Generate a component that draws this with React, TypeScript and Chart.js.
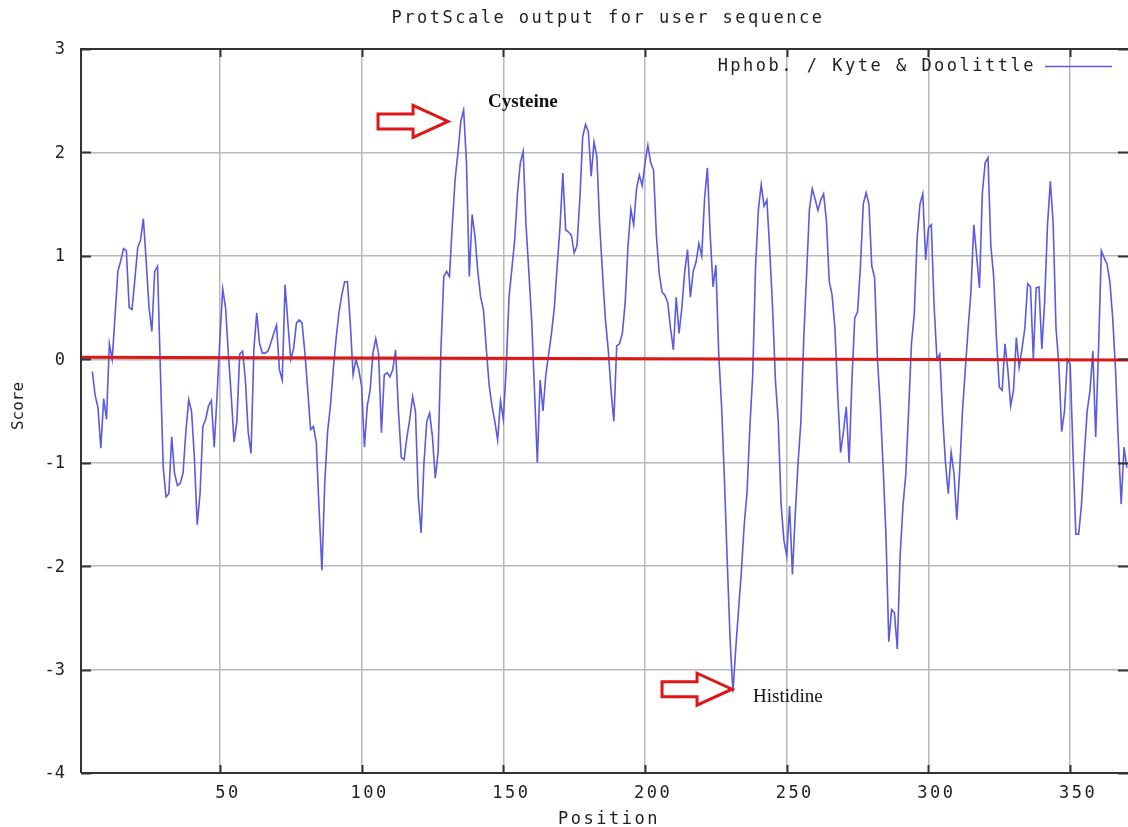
import React, { useEffect, useRef } from "react";
import { Chart, registerables } from "chart.js";

Chart.register(...registerables);

// ---- Data (Kyte & Doolittle hydropathy, window centred positions) ----
const firstPosition = 5;

const scores005to100 = [
  -0.12, -0.35, -0.47, -0.86, -0.38, -0.58, 0.15, 0.0, 0.41, 0.85,
  0.95, 1.07, 1.05, 0.5, 0.48, 0.77, 1.08, 1.15, 1.36, 0.95,
  0.5, 0.27, 0.85, 0.9, -0.1, -1.04, -1.33, -1.3, -0.75, -1.1,
  -1.22, -1.2, -1.1, -0.7, -0.39, -0.5, -0.95, -1.6, -1.3, -0.65,
  -0.58, -0.45, -0.4, -0.85, -0.35, 0.2, 0.68, 0.5, 0.05, -0.35,
  -0.8, -0.6, 0.05, 0.08, -0.2, -0.71, -0.91, 0.1, 0.45, 0.15,
  0.06, 0.06, 0.08, 0.16, 0.25, 0.33, -0.1, -0.2, 0.72, 0.35,
  0.0, 0.1, 0.35, 0.38, 0.35, 0.06, -0.3, -0.68, -0.65, -0.8,
  -1.45, -2.04, -1.2, -0.7, -0.45, -0.1, 0.2, 0.45, 0.62, 0.75,
  0.75, 0.35, -0.15, 0.0, -0.1, -0.26,
];

const scores101to200 = [
  -0.85, -0.45, -0.3, 0.06, 0.2, 0.05, -0.71, -0.15, -0.13, -0.17,
  -0.1, 0.09, -0.5, -0.95, -0.97, -0.75, -0.58, -0.36, -0.5, -1.33,
  -1.68, -1.0, -0.6, -0.52, -0.75, -1.15, -0.9, 0.1, 0.8, 0.85,
  0.8, 1.3, 1.74, 2.0, 2.3, 2.41, 1.9, 0.8, 1.4, 1.19,
  0.85, 0.6, 0.48, 0.1, -0.25, -0.45, -0.6, -0.78, -0.4, -0.58,
  -0.1, 0.6, 0.87, 1.15, 1.6, 1.9, 2.01, 1.3, 0.85, 0.38,
  -0.3, -1.0, -0.2, -0.5, -0.15, 0.05, 0.25, 0.5, 0.9, 1.28,
  1.8, 1.25, 1.23, 1.2, 1.03, 1.1, 1.55, 2.15, 2.27, 2.2,
  1.77, 2.1, 1.96, 1.3, 0.83, 0.39, 0.1, -0.3, -0.6, 0.13,
  0.15, 0.25, 0.55, 1.1, 1.45, 1.3, 1.65, 1.78, 1.68, 1.9,
];

const scores201to300 = [
  2.07, 1.9, 1.83, 1.2, 0.83, 0.65, 0.62, 0.55, 0.3, 0.09,
  0.6, 0.25, 0.5, 0.85, 1.06, 0.6, 0.85, 0.94, 1.12, 1.0,
  1.55, 1.85, 1.2, 0.7, 0.91, 0.05, -0.45, -1.15, -1.95, -2.7,
  -3.22, -2.8, -2.42, -2.05, -1.6, -1.28, -0.65, -0.15, 0.9, 1.45,
  1.69, 1.48, 1.54, 1.05, 0.5, -0.2, -0.6, -1.4, -1.75, -1.9,
  -1.42, -2.08, -1.5, -1.0, -0.6, 0.2, 0.82, 1.45, 1.65, 1.55,
  1.44, 1.54, 1.6, 1.34, 0.75, 0.62, 0.3, -0.35, -0.9, -0.7,
  -0.46, -1.0, -0.2, 0.4, 0.46, 0.9, 1.5, 1.61, 1.5, 0.9,
  0.79, 0.0, -0.45, -1.04, -1.7, -2.73, -2.42, -2.45, -2.8, -1.9,
  -1.42, -1.11, -0.5, 0.15, 0.44, 1.17, 1.5, 1.6, 0.96, 1.27,
];

const scores301to370 = [
  1.3, 0.51, 0.0, 0.05, -0.55, -1.0, -1.3, -0.9, -1.1, -1.55,
  -1.08, -0.5, -0.1, 0.3, 0.66, 1.3, 1.0, 0.69, 1.6, 1.9,
  1.95, 1.1, 0.8, 0.2, -0.27, -0.3, 0.15, -0.1, -0.45, -0.3,
  0.21, -0.08, 0.1, 0.3, 0.73, 0.7, 0.0, 0.69, 0.7, 0.1,
  0.56, 1.3, 1.72, 1.31, 0.3, -0.05, -0.7, -0.5, 0.0, -0.05,
  -0.9, -1.69, -1.69, -1.4, -0.92, -0.5, -0.3, 0.08, -0.75, 0.1,
  1.05, 0.98, 0.92, 0.75, 0.4, -0.1, -0.8, -1.4, -0.85, -1.05,
];

// hand-drawn red reference line near zero
const refLineX = [1, 370.4];
const refLineY = [0.02, -0.008];

// axes
const xMin = 1;
const xMax = 370.4;
const xTicks = [50, 100, 150, 200, 250, 300, 350];
const yTicks = [3, 2, 1, 0, -1, -2, -3, -4];

// annotations (anchored on data coordinates of the arrow tips)
const annotationLabels = ["Cysteine", "Histidine"];
const annotationTipX = [130.5, 230.7];
const annotationTipY = [2.3, -3.19];

const titleText = "ProtScale output for user sequence";
const legendText = "Hphob. / Kyte & Doolittle";
const xTitle = "Position";
const yTitle = "Score";

const BLUE = "#5a5ae2";
const RED = "#dd1616";
const MONO = '"DejaVu Sans Mono", "Liberation Mono", monospace';
const SERIF = '"Liberation Serif", "DejaVu Serif", serif';

function drawArrow(ctx: CanvasRenderingContext2D, tipX: number, tipY: number) {
  // outline arrow pointing right, tip at (tipX, tipY)
  const len = 70;
  const headLen = 35;
  const shaftHalf = 7.5;
  const headHalf = 16;
  ctx.save();
  ctx.beginPath();
  ctx.moveTo(tipX - len, tipY - shaftHalf);
  ctx.lineTo(tipX - headLen, tipY - shaftHalf);
  ctx.lineTo(tipX - headLen, tipY - headHalf);
  ctx.lineTo(tipX, tipY);
  ctx.lineTo(tipX - headLen, tipY + headHalf);
  ctx.lineTo(tipX - headLen, tipY + shaftHalf);
  ctx.lineTo(tipX - len, tipY + shaftHalf);
  ctx.closePath();
  ctx.fillStyle = "#ffffff";
  ctx.fill();
  ctx.lineWidth = 3;
  ctx.lineJoin = "miter";
  ctx.strokeStyle = RED;
  ctx.stroke();
  ctx.restore();
}

const decorPlugin = {
  id: "decor",
  afterDraw(chart: any) {
    const ctx: CanvasRenderingContext2D = chart.ctx;
    const area = chart.chartArea;
    const xs = chart.scales.x;
    const ys = chart.scales.y;
    ctx.save();

    // frame
    ctx.strokeStyle = "#333333";
    ctx.lineWidth = 2;
    ctx.beginPath();
    ctx.moveTo(area.left, area.bottom);
    ctx.lineTo(area.left, area.top);
    ctx.lineTo(area.right, area.top);
    ctx.moveTo(area.left, area.bottom);
    ctx.lineTo(area.right, area.bottom);
    ctx.stroke();

    // inside tick marks
    ctx.beginPath();
    for (const t of xTicks) {
      const px = Math.round(xs.getPixelForValue(t)) + 0.5;
      ctx.moveTo(px, area.top);
      ctx.lineTo(px, area.top + 8);
      ctx.moveTo(px, area.bottom);
      ctx.lineTo(px, area.bottom - 8);
    }
    for (const t of yTicks) {
      const py = Math.round(ys.getPixelForValue(t)) + 0.5;
      ctx.moveTo(area.left, py);
      ctx.lineTo(area.left + 10, py);
      ctx.moveTo(area.right, py);
      ctx.lineTo(area.right - 10, py);
    }
    ctx.stroke();

    // texts
    ctx.fillStyle = "#1e1e1e";
    ctx.textBaseline = "middle";
    (ctx as any).letterSpacing = "2.5px";
    ctx.font = `17px ${MONO}`;

    ctx.textAlign = "center";
    ctx.fillText(titleText, 608, 19);

    for (const t of xTicks) {
      ctx.fillText(String(t), xs.getPixelForValue(t) + 8, 794);
    }
    ctx.fillText(xTitle, 609, 820);

    ctx.textAlign = "right";
    ctx.fillText(legendText, 1036, 67);

    (ctx as any).letterSpacing = "0px";
    ctx.textAlign = "right";
    for (const t of yTicks) {
      ctx.fillText(String(t), 65, ys.getPixelForValue(t) + 1);
    }

    ctx.save();
    ctx.translate(19, 406);
    ctx.rotate(-Math.PI / 2);
    ctx.textAlign = "center";
    ctx.font = `16px ${MONO}`;
    ctx.fillText(yTitle, 0, 0);
    ctx.restore();

    // legend sample line
    ctx.strokeStyle = BLUE;
    ctx.lineWidth = 1.5;
    ctx.beginPath();
    ctx.moveTo(1045, 66.5);
    ctx.lineTo(1112, 66.5);
    ctx.stroke();

    // annotations
    for (let i = 0; i < annotationLabels.length; i++) {
      const tx = xs.getPixelForValue(annotationTipX[i]);
      const ty = ys.getPixelForValue(annotationTipY[i]);
      drawArrow(ctx, tx, ty);
      ctx.fillStyle = "#111111";
      ctx.textAlign = "left";
      ctx.textBaseline = "alphabetic";
      if (i === 0) {
        ctx.font = `bold 19px ${SERIF}`;
        ctx.fillText(annotationLabels[i], tx + 40, ty - 14);
      } else {
        ctx.font = `19px ${SERIF}`;
        ctx.fillText(annotationLabels[i], tx + 21, ty + 13);
      }
    }

    ctx.restore();
  },
};

export default function App() {
  const canvasRef = useRef<HTMLCanvasElement | null>(null);

  useEffect(() => {
    document.body.style.margin = "0";
    document.body.style.overflow = "hidden";
    const canvas = canvasRef.current;
    if (!canvas) return;

    const allScores = [
      ...scores005to100,
      ...scores101to200,
      ...scores201to300,
      ...scores301to370,
    ];
    const hydro = allScores.map((v, i) => ({ x: firstPosition + i, y: v }));
    const ref = refLineX.map((x, i) => ({ x, y: refLineY[i] }));

    const gridOpts = {
      color: "#b8b8b8",
      lineWidth: 1.5,
      drawTicks: false,
    };

    const chart = new Chart(canvas, {
      type: "line",
      data: {
        datasets: [
          {
            label: "zero",
            data: ref,
            borderColor: RED,
            borderWidth: 3,
            pointRadius: 0,
            fill: false,
            order: 0,
          },
          {
            label: legendText,
            data: hydro,
            borderColor: BLUE,
            borderWidth: 1.6,
            pointRadius: 0,
            fill: false,
            tension: 0,
            order: 1,
          },
        ],
      },
      options: {
        responsive: false,
        animation: false,
        events: [],
        layout: { padding: { top: 49, left: 0, right: 0, bottom: 0 } },
        plugins: {
          legend: { display: false },
          title: { display: false },
          tooltip: { enabled: false },
        },
        scales: {
          x: {
            type: "linear",
            min: xMin,
            max: xMax,
            afterFit: (s: any) => {
              s.height = 54;
            },
            afterBuildTicks: (s: any) => {
              s.ticks = xTicks.map((v) => ({ value: v }));
            },
            ticks: { display: false },
            grid: gridOpts,
            border: { display: false },
          },
          y: {
            type: "linear",
            min: -4,
            max: 3,
            afterFit: (s: any) => {
              s.width = 81;
            },
            afterBuildTicks: (s: any) => {
              s.ticks = yTicks.map((v) => ({ value: v }));
            },
            ticks: { display: false },
            grid: gridOpts,
            border: { display: false },
          },
        },
      } as any,
      plugins: [decorPlugin],
    });

    return () => {
      chart.destroy();
    };
  }, []);

  return (
    <div style={{ width: 1128, height: 827, background: "#ffffff" }}>
      <canvas ref={canvasRef} width={1128} height={827} style={{ display: "block" }} />
    </div>
  );
}
